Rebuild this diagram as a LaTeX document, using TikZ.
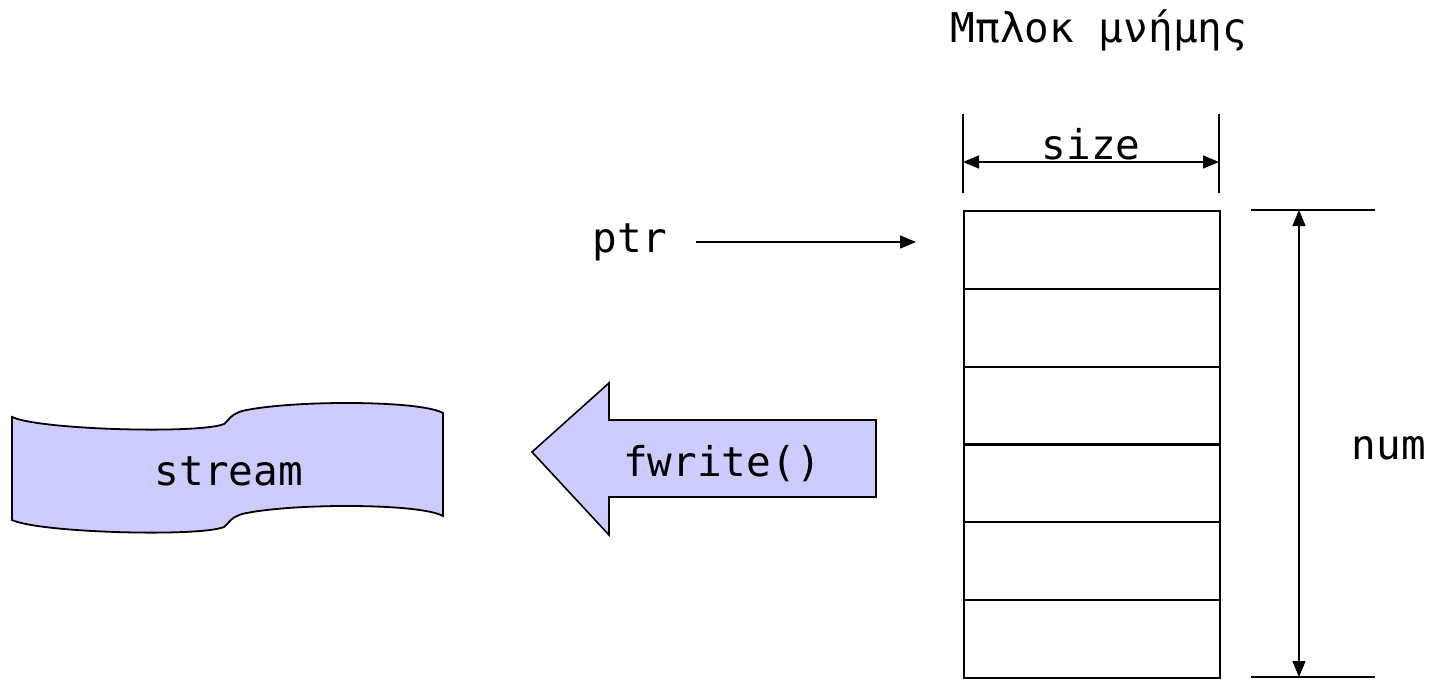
\documentclass[tikz,border=0pt]{standalone}
\usepackage{fontspec}
\setmainfont{DejaVu Sans Mono}
\usetikzlibrary{arrows.meta}
\definecolor{lav}{HTML}{CCCCFF}
\begin{document}
\begin{tikzpicture}[x=1pt,y=-1pt,
  lbl/.style={inner sep=0pt,anchor=base,font=\fontsize{41}{48}\selectfont},
  cell/.style={draw,line width=2.2pt,minimum width=256pt,minimum height=77.8pt,inner sep=0pt,anchor=north west},
  dim/.style={line width=1.4pt},
  tip/.style={-{Triangle[width=13pt,length=16pt]}},
  tips/.style={{Triangle[width=13pt,length=16pt]}-{Triangle[width=13pt,length=16pt]}}]
\useasboundingbox (0,0) rectangle (1430,678);
% title
\node[lbl] (title) at (1099,42) {Μπλοκ μνήμης};
% memory cells
\node[cell] (c1) at (963,210) {};
\node[cell] (c2) at (963,287.8) {};
\node[cell] (c3) at (963,365.6) {};
\node[cell] (c4) at (963,443.4) {};
\node[cell] (c5) at (963,521.2) {};
\node[cell] (c6) at (963,599) {};
% size dimension
\coordinate (sl1) at (963,114); \coordinate (sl2) at (963,193);
\coordinate (sr1) at (1219,114); \coordinate (sr2) at (1219,193);
\draw[dim] (sl1) -- (sl2);
\draw[dim] (sr1) -- (sr2);
\coordinate (sa) at (963,162); \coordinate (sb) at (1219,162);
\draw[dim,tips] (sa) -- (sb);
\node[lbl] (size) at (1091,159) {size};
% num dimension
\coordinate (nt1) at (1251,210); \coordinate (nt2) at (1375,210);
\coordinate (nb1) at (1251,677); \coordinate (nb2) at (1375,677);
\draw[dim] (nt1) -- (nt2);
\draw[dim] (nb1) -- (nb2);
\coordinate (na) at (1299,210); \coordinate (nb) at (1299,677);
\draw[dim,tips] (na) -- (nb);
\node[lbl] (num) at (1389,459) {num};
% ptr
\node[lbl] (ptr) at (630,252) {ptr};
\coordinate (pa) at (696,242); \coordinate (pb) at (916,242);
\draw[dim,tip] (pa) -- (pb);
% fwrite arrow
\draw[line width=1.6pt,fill=lav,line join=miter]
  (532,452) -- (609,383) -- (609,420) -- (876,420) -- (876,497) -- (609,497) -- (609,535) -- cycle;
\node[lbl] (fw) at (722,476) {fwrite()};
% stream
\draw[line width=1.8pt,fill=lav]
  (12,417) .. controls (40,430) and (200,434) .. (224,424)
  .. controls (230,419) and (230,415) .. (242,411)
  .. controls (290,400) and (420,400) .. (443,413)
  -- (443,516)
  .. controls (420,503) and (290,503) .. (242,514)
  .. controls (230,518) and (230,522) .. (224,527)
  .. controls (200,537) and (40,533) .. (12,520) -- cycle;
\node[lbl] (stream) at (229,485) {stream};
\end{tikzpicture}
\end{document}
